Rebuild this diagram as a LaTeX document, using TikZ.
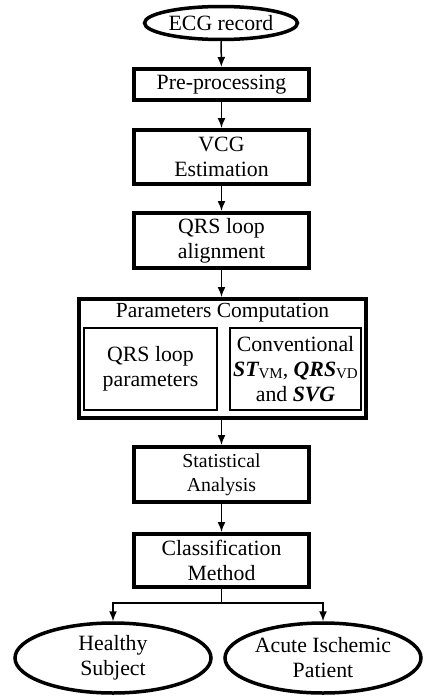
\documentclass[tikz,border=0pt]{standalone}
\usepackage{fontspec}
\setmainfont{Liberation Serif}
\usetikzlibrary{shapes.geometric,arrows.meta}
\begin{document}
\begin{tikzpicture}[x=1pt,y=-1pt,
  every node/.style={font=\fontsize{21.8}{25}\selectfont, align=center, inner sep=0pt},
  stepbox/.style={draw, line width=4pt, minimum width=175pt},
  endell/.style={draw, ellipse, line width=3.5pt},
  innerbox/.style={draw, line width=1.3pt},
  arr/.style={line width=1.5pt, -{Latex[length=10pt,width=8pt]}}]
\useasboundingbox (0,0) rectangle (423,696);
\node[endell, minimum width=153pt, minimum height=33pt] (ecg) at (221,23) {ECG record};
\node[stepbox, minimum height=31pt] (pre) at (221.5,84.5) {Pre-processing};
\node[stepbox, minimum height=54pt] (vcg) at (221.5,157) {VCG\\Estimation};
\node[stepbox, minimum height=55pt] (qrs) at (221.5,240.5) {QRS loop\\alignment};
\node[draw, line width=4pt, minimum width=287pt, minimum height=119pt] (pc) at (222.5,358.5) {};
\node[font=\fontsize{21.5}{25}\selectfont] (pct) at (222.5,313) {Parameters Computation};
\node[innerbox, minimum width=133pt, minimum height=82pt] (lp) at (150.5,369) {QRS loop\\parameters};
\node[innerbox, minimum width=131pt, minimum height=82pt] (cv) at (295.5,369) {Conventional\\{\bfseries\itshape ST}\raisebox{-0.25ex}{\fontsize{15}{15}\selectfont VM}, {\bfseries\itshape QRS}\raisebox{-0.25ex}{\fontsize{15}{15}\selectfont VD}\\and {\bfseries\itshape SVG}};
\node[stepbox, minimum height=55pt, font=\fontsize{19.8}{24}\selectfont] (sa) at (221.5,474.5) {Statistical\\Analysis};
\node[stepbox, minimum height=53pt, font=\fontsize{21.8}{24.5}\selectfont] (cm) at (221.5,560.5) {Classification\\Method};
\node[endell, minimum width=196pt, minimum height=70pt] (hs) at (113,658) {Healthy\\Subject};
\node[endell, minimum width=196pt, minimum height=70pt] (ai) at (323,658) {Acute Ischemic\\Patient};
\coordinate (split) at (221.5,603);
\draw[arr] (ecg) -- (pre);
\draw[arr] (pre) -- (vcg);
\draw[arr] (vcg) -- (qrs);
\draw[arr] (qrs.south) -- (qrs.south |- pc.north);
\draw[arr] (sa.north |- pc.south) -- (sa.north);
\draw[arr] (sa) -- (cm);
\draw[line width=1.5pt] (cm.south) -- (split);
\draw[arr] (split) -| (hs.north);
\draw[arr] (split) -| (ai.north);
\end{tikzpicture}
\end{document}
